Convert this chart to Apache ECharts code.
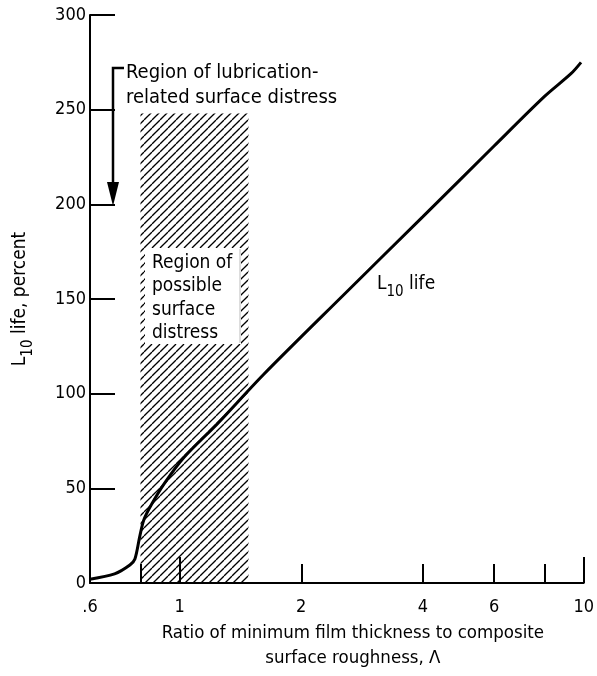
<!DOCTYPE html>
<html>
<head>
<meta charset="utf-8">
<script src="https://cdn.jsdelivr.net/npm/echarts@6/dist/echarts.min.js"></script>
<style>
html,body{margin:0;padding:0;background:#fff;}
#chart{width:597px;height:676px;}
</style>
</head>
<body>
<div id="chart"></div>
<script>
// ---- data ----
const lambdaValues = [0.6, 0.69, 0.753, 0.775, 0.797, 0.816, 0.851, 0.917, 1.027, 1.239, 1.611, 2.53, 4, 6, 8, 9.3, 9.85];
const lifeValues   = [2,   4.8,  9.5,   12.7,  24.8,  33.5,  41.3,  52.6,  66.5,  84,    110,   151.6, 193.5, 230.8, 257, 269, 275];
const xLabelValues = [0.6, 1, 2, 4, 6, 10];
const xLabelTexts  = ['.6', '1', '2', '4', '6', '10'];
const xShortTicks  = [0.8, 2, 4, 6, 8];
const xLongTicks   = [1, 10];
const yMin = 0, yMax = 300, yStep = 50;
const distressRange = [0.8, 1.48];   // Λ range of possible surface distress
const distressTop = 248;             // percent

const FF = "'DejaVu Sans Condensed','Liberation Sans Narrow','Liberation Sans',sans-serif";

// hatch pattern
function makeHatch(size) {
  const c = document.createElement('canvas');
  c.width = size; c.height = size;
  const g = c.getContext('2d');
  g.strokeStyle = '#000';
  g.lineWidth = 1.3;
  for (const x0 of [-size, 0, size]) {
    g.beginPath();
    g.moveTo(x0, size);
    g.lineTo(x0 + size, 0);
    g.stroke();
  }
  return c;
}

const chart = echarts.init(document.getElementById('chart'), null, {renderer: 'canvas'});
const curve = lambdaValues.map((v, i) => [v, lifeValues[i]]);

const option = {
  backgroundColor: '#fff',
  animation: false,
  grid: {left: 90, right: 10, top: 15, bottom: 85},
  xAxis: [{
    type: 'log', min: 0.6, max: 10, logBase: 10,
    axisLine: {lineStyle: {color: '#000', width: 2}},
    splitLine: {show: false},
    axisTick: {inside: true, length: 19, lineStyle: {color: '#000', width: 2}, customValues: xShortTicks},
    axisLabel: {
      color: '#000', fontFamily: FF, fontSize: 18, margin: 15,
      customValues: xLabelValues,
      formatter: function (v) {
        const i = xLabelValues.findIndex(x => Math.abs(x - v) < 1e-6);
        return i >= 0 ? xLabelTexts[i] : '';
      }
    },
    name: 'Ratio of minimum film thickness to composite\nsurface roughness, \u039B',
    nameLocation: 'middle', nameGap: 38,
    nameTextStyle: {color: '#000', fontFamily: FF, fontSize: 18.5, lineHeight: 25, padding: [0, 0, 0, 32]}
  }, {
    type: 'log', min: 0.6, max: 10, logBase: 10, position: 'bottom',
    axisLine: {show: false},
    splitLine: {show: false},
    axisLabel: {show: false},
    axisTick: {inside: true, length: 26, lineStyle: {color: '#000', width: 2}, customValues: xLongTicks}
  }],
  yAxis: {
    type: 'value', min: yMin, max: yMax, interval: yStep,
    axisLine: {show: true, lineStyle: {color: '#000', width: 2}},
    splitLine: {show: false},
    axisTick: {show: true, inside: true, length: 25, lineStyle: {color: '#000', width: 2}},
    axisLabel: {color: '#000', fontFamily: FF, fontSize: 18, margin: 4},
    name: '{a|L}{s|10}{a| life, percent}',
    nameLocation: 'middle', nameGap: 54,
    nameTextStyle: {
      color: '#000', fontFamily: FF,
      rich: {
        a: {fontFamily: FF, fontSize: 19, color: '#000', padding: [0, 0, 6, 0], verticalAlign: 'bottom'},
        s: {fontFamily: FF, fontSize: 15, color: '#000', verticalAlign: 'bottom'}
      }
    }
  },
  series: [{
    type: 'line',
    xAxisIndex: 0,
    data: curve,
    symbol: 'none',
    smooth: 0.3,
    lineStyle: {color: '#000', width: 3},
    z: 5,
    markArea: {
      silent: true,
      itemStyle: {color: {image: makeHatch(8), repeat: 'repeat'}, opacity: 1, borderWidth: 0},
      data: [[{xAxis: distressRange[0], yAxis: 0}, {xAxis: distressRange[1], yAxis: distressTop}]]
    }
  }],
  graphic: [
    {type: 'rect', z: 100, shape: {x: 145, y: 248, width: 96, height: 96}, style: {fill: '#fff'}},
    {type: 'line', z: 101, shape: {x1: 240, y1: 249, x2: 240, y2: 343}, style: {stroke: '#bbb', lineWidth: 1}},
    {type: 'text', z: 102, left: 152, top: 251, style: {
      text: 'Region of\npossible\nsurface\ndistress', fill: '#000', font: '19px ' + FF, lineHeight: 23.5
    }},
    {type: 'text', z: 102, left: 377, top: 275, style: {
      text: '{a|L}{s|10}{a| life}',
      rich: {
        a: {fontFamily: FF, fontSize: 19, fill: '#000', padding: [0, 0, 6, 0], verticalAlign: 'bottom'},
        s: {fontFamily: FF, fontSize: 15, fill: '#000', verticalAlign: 'bottom'}
      }
    }},
    {type: 'text', z: 102, left: 126, top: 60, style: {
      text: 'Region of lubrication-\nrelated surface distress', fill: '#000', font: '20px ' + FF, lineHeight: 25
    }},
    {type: 'polyline', z: 102, shape: {points: [[124, 68], [113, 68], [113, 188]]}, style: {stroke: '#000', lineWidth: 2.5, fill: null}},
    {type: 'polygon', z: 102, shape: {points: [[107, 182], [119, 182], [113, 206]]}, style: {fill: '#000'}}
  ]
};
chart.setOption(option);
</script>
</body>
</html>
